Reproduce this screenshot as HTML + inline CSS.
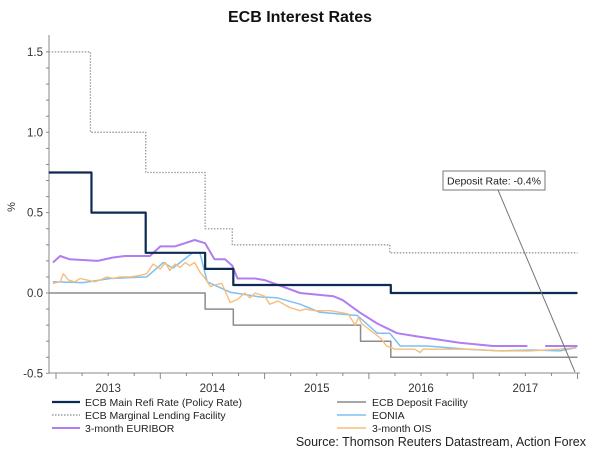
<!DOCTYPE html>
<html><head><meta charset="utf-8"><style>
body{margin:0;background:#fff;font-family:"Liberation Sans",sans-serif;}
svg text{font-family:"Liberation Sans",sans-serif;}
</style></head><body>
<svg id="c" width="600" height="451" viewBox="0 0 600 451">
<text x="300" y="22" text-anchor="middle" font-size="16" font-weight="bold" fill="#111">ECB Interest Rates</text>
<text transform="translate(15,207) rotate(-90)" text-anchor="middle" font-size="11" fill="#333">%</text>
<g id="axes"></g><g id="series"></g>
<g>
<line x1="498" y1="190" x2="575" y2="372" stroke="#777" stroke-width="1"/>
<rect x="443" y="171" width="102" height="19" fill="#fff" stroke="#777"/>
<text x="494" y="184.5" text-anchor="middle" font-size="10.5" fill="#222">Deposit Rate: -0.4%</text>
</g>
<g font-size="10.5" fill="#222">
<g><line x1="52" y1="402" x2="80" y2="402" stroke="#0d2b52" stroke-width="2.2"/><text x="85" y="406">ECB Main Refi Rate (Policy Rate)</text></g>
<g><line x1="52" y1="415" x2="80" y2="415" stroke="#888" stroke-width="1.3" stroke-dasharray="1.5,1.5"/><text x="85" y="419">ECB Marginal Lending Facility</text></g>
<g><line x1="52" y1="428" x2="80" y2="428" stroke="#b07ef0" stroke-width="2"/><text x="85" y="432">3-month EURIBOR</text></g>
<g><line x1="337" y1="402" x2="366" y2="402" stroke="#888" stroke-width="1.5"/><text x="372" y="406">ECB Deposit Facility</text></g>
<g><line x1="337" y1="415" x2="366" y2="415" stroke="#7cc0f2" stroke-width="1.5"/><text x="372" y="419">EONIA</text></g>
<g><line x1="337" y1="428" x2="366" y2="428" stroke="#f8bd7a" stroke-width="1.5"/><text x="372" y="432">3-month OIS</text></g>
</g>
<text x="586" y="446" text-anchor="end" font-size="12.5" fill="#222">Source: Thomson Reuters Datastream, Action Forex</text>
</svg>
<script>
const yTicks=[1.5,1.0,0.5,0.0,-0.5];
const yTickLabels=["1.5","1.0","0.5","0.0","-0.5"];
const xYears=[2013,2014,2015,2016,2017];
const refiDates=[2012.93,2013.34,2013.86,2014.43,2014.70,2016.21,2018.0];
const refiValues=[0.75,0.5,0.25,0.15,0.05,0.0];
const depositDates=[2012.93,2014.43,2014.70,2015.92,2016.21,2018.0];
const depositValues=[0,-0.1,-0.2,-0.3,-0.4];
const marginalDates=[2012.93,2013.33,2013.86,2014.43,2014.69,2016.20,2018.0];
const marginalValues=[1.5,1.0,0.75,0.4,0.3,0.25];
const euriborDates=[2012.97,2013.04,2013.13,2013.40,2013.54,2013.66,2013.90,2014.00,2014.14,2014.33,2014.43,2014.52,2014.62,2014.69,2014.74,2014.91,2015.00,2015.34,2015.66,2015.75,2015.91,2016.08,2016.27,2016.46,2016.87,2017.19,2017.52];
const euriborValues=[0.19,0.23,0.21,0.20,0.22,0.23,0.23,0.29,0.29,0.33,0.31,0.21,0.21,0.17,0.09,0.09,0.08,0.0,-0.02,-0.045,-0.12,-0.19,-0.25,-0.27,-0.31,-0.33,-0.33];
const euribor2Dates=[2017.69,2018.0];
const euribor2Values=[-0.33,-0.33];
const eoniaDates=[2012.97,2013.26,2013.52,2013.87,2014.03,2014.12,2014.31,2014.38,2014.45,2014.67,2014.96,2015.12,2015.34,2015.53,2015.89,2016.08,2016.20,2016.30,2016.56,2016.94,2017.26,2017.57,2017.83,2017.99];
const eoniaValues=[0.07,0.065,0.09,0.10,0.19,0.155,0.25,0.25,0.07,0.005,-0.025,-0.03,-0.07,-0.12,-0.14,-0.25,-0.25,-0.33,-0.33,-0.35,-0.36,-0.355,-0.36,-0.34];
const oisDates=[2012.97,2013.04,2013.07,2013.12,2013.18,2013.23,2013.30,2013.37,2013.42,2013.49,2013.55,2013.61,2013.71,2013.81,2013.87,2013.93,2014.00,2014.05,2014.09,2014.14,2014.19,2014.24,2014.28,2014.33,2014.38,2014.43,2014.48,2014.52,2014.59,2014.67,2014.74,2014.81,2014.86,2014.91,2015.00,2015.05,2015.13,2015.24,2015.34,2015.39,2015.48,2015.63,2015.72,2015.80,2015.87,2015.90,2015.93,2016.01,2016.11,2016.17,2016.25,2016.35,2016.44,2016.49,2016.52,2016.68,2016.97,2017.26,2017.54,2017.83,2017.98];
const oisValues=[0.06,0.07,0.12,0.08,0.07,0.09,0.08,0.07,0.08,0.10,0.09,0.10,0.10,0.11,0.12,0.18,0.15,0.19,0.14,0.18,0.16,0.19,0.17,0.19,0.13,0.09,0.04,0.05,0.06,-0.06,-0.04,0.0,-0.03,0.0,-0.02,-0.07,-0.05,-0.09,-0.11,-0.10,-0.11,-0.11,-0.12,-0.13,-0.2,-0.15,-0.19,-0.23,-0.28,-0.33,-0.35,-0.35,-0.35,-0.37,-0.35,-0.35,-0.35,-0.36,-0.36,-0.35,-0.34];

const NS="http://www.w3.org/2000/svg";
const X=t=>56+(t-2013)*104.3;
const Y=v=>293-v*160.7;
function mk(tag,attrs,parent){const e=document.createElementNS(NS,tag);for(const k in attrs)e.setAttribute(k,attrs[k]);parent.appendChild(e);return e;}
const ax=document.getElementById('axes'),se=document.getElementById('series');
let a=mk('line',{x1:49,y1:35,x2:49,y2:373,stroke:'#888'},ax);


a=mk('line',{x1:49,y1:373,x2:580,y2:373,stroke:'#888'},ax);


for(let v=-0.5;v<=1.6;v+=0.1){mk('line',{x1:46,x2:49,y1:Y(v),y2:Y(v),stroke:'#888'},ax);}
yTicks.forEach((v,i)=>{const t=mk('text',{x:43,y:Y(v)+4,'text-anchor':'end','font-size':11.5,fill:'#333'},ax);t.textContent=yTickLabels[i];

});
for(let q=2013;q<=2018;q+=0.25){const x=X(q);if(x>578)break;mk('line',{x1:x,x2:x,y1:373,y2:q%1===0?379:376,stroke:'#888'},ax);}
xYears.forEach(y=>{const t=mk('text',{x:X(y+0.5),y:392,'text-anchor':'middle','font-size':11.5,fill:'#333'},ax);t.textContent=String(y);

});
function stepPath(d,v){let p='M'+X(d[0])+','+Y(v[0]);for(let i=0;i<v.length;i++){p+='H'+X(d[i+1]);if(i+1<v.length)p+='V'+Y(v[i+1]);}return p;}
function linePath(d,v){return d.map((t,i)=>(i?'L':'M')+X(t).toFixed(1)+','+Y(v[i]).toFixed(1)).join('');}
function add(p,st,w,name,dash){const e=mk('path',{d:p,fill:'none',stroke:st,'stroke-width':w,'stroke-linejoin':'round'},se);if(dash)e.setAttribute('stroke-dasharray',dash);

}
add(stepPath(marginalDates,marginalValues),'#999',1.3,'marginal-lending-line','1.5,1.5');
add(stepPath(depositDates,depositValues),'#8c8c8c',1.5,'deposit-facility-line');
add(linePath(euriborDates,euriborValues),'#b07ef0',2,'euribor-line');
add(linePath(euribor2Dates,euribor2Values),'#b07ef0',2,'euribor-line-end');
add(linePath(eoniaDates,eoniaValues),'#7cc0f2',1.5,'eonia-line');
add(linePath(oisDates,oisValues),'#f8bd7a',1.4,'ois-line');
add(stepPath(refiDates,refiValues),'#0d2b52',2.2,'refi-rate-line');
</script>
</body></html>
